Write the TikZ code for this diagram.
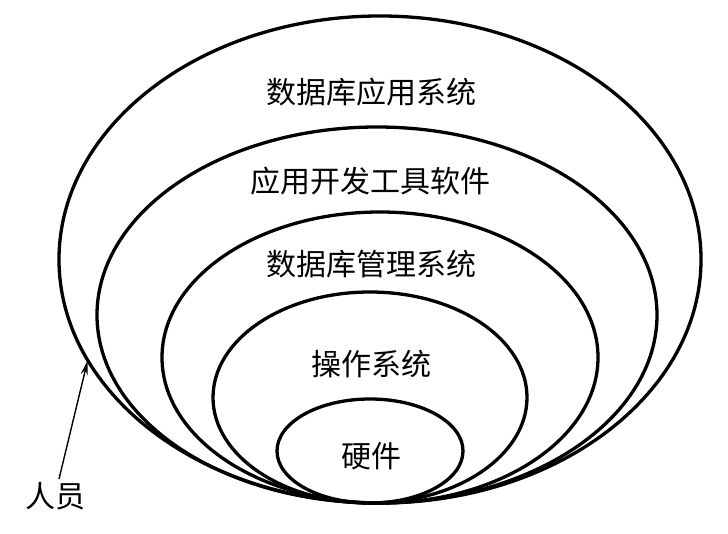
\documentclass[tikz,border=0pt]{standalone}
\usepackage{fontspec}
\newfontfamily\cjk{Noto Sans CJK SC}
\usetikzlibrary{shapes.geometric, arrows.meta, positioning}
\tikzset{layer/.style={ellipse, draw=black, line width=3.3pt, inner sep=0pt, outer sep=0pt},
    tag/.style={inner sep=0pt, font=\cjk\fontsize{30}{34}\selectfont}}

\begin{document}
\begin{tikzpicture}[x=1pt, y=-1pt, >=Stealth]
  \useasboundingbox (0,0) rectangle (728,534);

  % nested layers, all touching at the bottom
  \node[layer, minimum width=642pt, minimum height=487pt] (app) at (380,259.5) {};
  \node[layer, minimum width=560pt, minimum height=376pt] (tool) at (377,315) {};
  \node[layer, minimum width=436pt, minimum height=291pt] (dbms) at (380,357.5) {};
  \node[layer, minimum width=314pt, minimum height=211pt] (os) at (370,397.5) {};
  \node[layer, minimum width=186pt, minimum height=104pt] (hw) at (370,451) {};

  % layer names
  \node[tag] (appText) at (371,92) {数据库应用系统};
  \node[tag] (toolText) at (370,181) {应用开发工具软件};
  \node[tag] (dbmsText) at (371,264) {数据库管理系统};
  \node[tag] (osText) at (371,364) {操作系统};
  \node[tag] (hwText) at (371,456) {硬件};
  \node[tag] (staff) at (55,496) {人员};

  \draw[-{Stealth[length=15pt,width=7pt]}, line width=1.4pt] ([xshift=4pt,yshift=3pt]staff.north) -- (app.199.3);
\end{tikzpicture}
\end{document}
